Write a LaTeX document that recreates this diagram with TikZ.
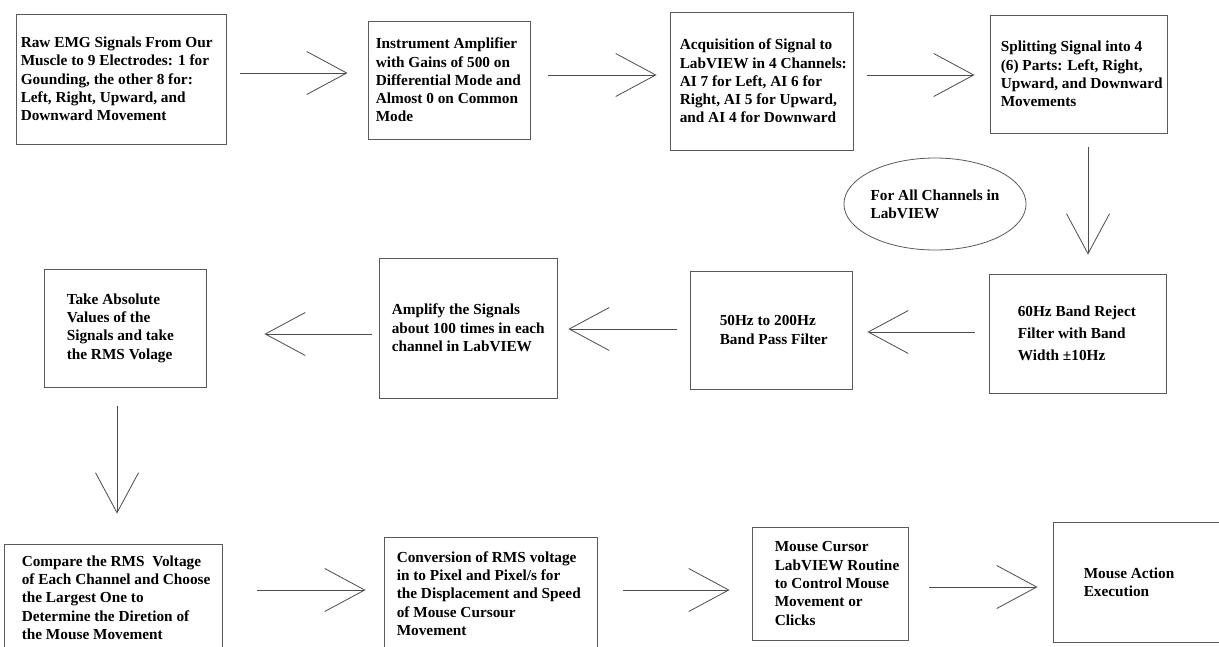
\documentclass[tikz,border=0pt]{standalone}
\usepackage{fontspec}
\setmainfont{Liberation Serif}
\usetikzlibrary{calc, arrows.meta, shapes.geometric, positioning}

\tikzset{
    box/.style={draw=black!65, line width=0.9pt, rectangle, inner sep=0pt},
    txt/.style={anchor=west, align=left, inner sep=0pt, font=\bfseries\fontsize{15.3}{18.3}\selectfont},
    flow/.style={draw=black!70, line width=0.8pt, -{Straight Barb[length=40pt, width=43pt]}},
}

\begin{document}
\begin{tikzpicture}[x=1pt, y=-1pt]
    % Page frame, the lower row runs off the edge
    \fill[white] (0,0) rectangle (1219,646);
    \path[use as bounding box] (0,0) rectangle (1219,646);
    \clip (0,0) rectangle (1219,646);

    % Top row: acquisition
    \node[box, minimum width=210pt, minimum height=130pt] (raw) at (121,79) {};
    \node[txt, right=5pt of raw.west] (rawtxt) {Raw EMG Signals From Our\\Muscle to 9 Electrodes: 1 for\\Gounding, the other 8 for:\\Left, Right, Upward, and\\Downward Movement};

    \node[box, minimum width=162pt, minimum height=118pt] (amp) at (449,80) {};
    \node[txt, right=8pt of amp.west] (amptxt) {Instrument Amplifier\\with Gains of 500 on\\Differential Mode and\\Almost 0 on Common\\Mode};

    \node[box, minimum width=183pt, minimum height=138pt] (acq) at (761.5,81) {};
    \node[txt, right=10pt of acq.west] (acqtxt) {Acquisition of Signal to\\LabVIEW in 4 Channels:\\AI 7 for Left, AI 6 for\\Right, AI 5 for Upward,\\and AI 4 for Downward};

    \node[box, minimum width=177pt, minimum height=118pt] (split) at (1078.5,74) {};
    \node[txt, right=11pt of split.west] (splittxt) {Splitting Signal into 4\\(6) Parts: Left, Right,\\Upward, and Downward\\Movements};

    % Middle row: processing in LabVIEW
    \node[draw=black!65, line width=0.8pt, ellipse, inner sep=0pt, minimum width=180pt, minimum height=92pt, align=left,
          font=\bfseries\fontsize{15.3}{18.3}\selectfont] (all) at (935,204) {For All Channels in\\LabVIEW};

    \node[box, minimum width=177pt, minimum height=119pt] (notch) at (1077.5,333.5) {};
    \node[txt, right=29pt of notch.west, font=\bfseries\fontsize{15.3}{22}\selectfont] (notchtxt) {60Hz Band Reject\\Filter with Band\\Width ±10Hz};

    \node[box, minimum width=162pt, minimum height=118pt] (bpf) at (771,330) {};
    \node[txt, right=30pt of bpf.west] (bpftxt) {50Hz to 200Hz\\Band Pass Filter};

    \node[box, minimum width=178pt, minimum height=140pt] (gain) at (468,328) {};
    \node[txt, right=13pt of gain.west] (gaintxt) {Amplify the Signals\\about 100 times in each\\channel in LabVIEW};

    \node[box, minimum width=162pt, minimum height=118pt] (rms) at (125,328) {};
    \node[txt, right=23pt of rms.west] (rmstxt) {Take Absolute\\Values of the\\Signals and take\\the RMS Volage};

    % Bottom row: mouse control
    \node[box, minimum width=218pt, minimum height=107pt] (cmp) at (113,597.5) {};
    \node[txt, right=18pt of cmp.west] (cmptxt) {Compare the RMS\ \ Voltage\\of Each Channel and Choose\\the Largest One to\\Determine the Diretion of\\the Mouse Movement};

    \node[box, minimum width=213pt, minimum height=112pt] (conv) at (490.5,593.5) {};
    \node[txt, right=13pt of conv.west] (convtxt) {Conversion of RMS voltage\\in to Pixel and Pixel/s for\\the Displacement and Speed\\of Mouse Cursour\\Movement};

    \node[box, minimum width=156pt, minimum height=113pt] (cur) at (830,583.5) {};
    \node[txt, right=23pt of cur.west] (curtxt) {Mouse Cursor\\LabVIEW Routine\\to Control Mouse\\Movement or\\Clicks};

    \node[box, minimum width=300pt, minimum height=120pt] (act) at (1203,582) {};
    \node[txt, right=31pt of act.west] (acttxt) {Mouse Action\\Execution};

    % Connectors
    \draw[flow, shorten <=14pt, shorten >=20pt] ([yshift=6pt]raw.east) -- ([yshift=6pt]raw.east -| amp.west);
    \draw[flow, shorten <=18pt, shorten >=13pt] ([yshift=5pt]amp.east) -- ([yshift=5pt]amp.east -| acq.west);
    \draw[flow, shorten <=14pt, shorten >=15pt] ([yshift=6pt]acq.east) -- ([yshift=6pt]acq.east -| split.west);
    \draw[flow, shorten <=14pt, shorten >=19pt] ([xshift=9.5pt]split.south) -- ([xshift=9.5pt]split.south |- notch.north);
    \draw[flow, shorten <=14pt, shorten >=15pt] ([yshift=1.5pt]notch.west) -- ([yshift=1.5pt]notch.west -| bpf.east);
    \draw[flow, shorten <=13pt, shorten >=11pt] ([yshift=1pt]bpf.west) -- ([yshift=1pt]bpf.west -| gain.east);
    \draw[flow, shorten <=7pt, shorten >=58pt] ([yshift=-6pt]gain.west) -- ([yshift=-6pt]gain.west -| rms.east);
    \draw[flow, shorten <=19pt, shorten >=30pt] ([xshift=-8pt]rms.south) -- ([xshift=-8pt]rms.south |- cmp.north);
    \draw[flow, shorten <=35pt, shorten >=18pt] ([yshift=7.5pt]cmp.east) -- ([yshift=7.5pt]cmp.east -| conv.west);
    \draw[flow, shorten <=26pt, shorten >=22pt] ([yshift=3.5pt]conv.east) -- ([yshift=3.5pt]conv.east -| cur.west);
    \draw[flow, shorten <=21pt, shorten >=15pt] ([yshift=-3.5pt]cur.east) -- ([yshift=-3.5pt]cur.east -| act.west);
\end{tikzpicture}
\end{document}
